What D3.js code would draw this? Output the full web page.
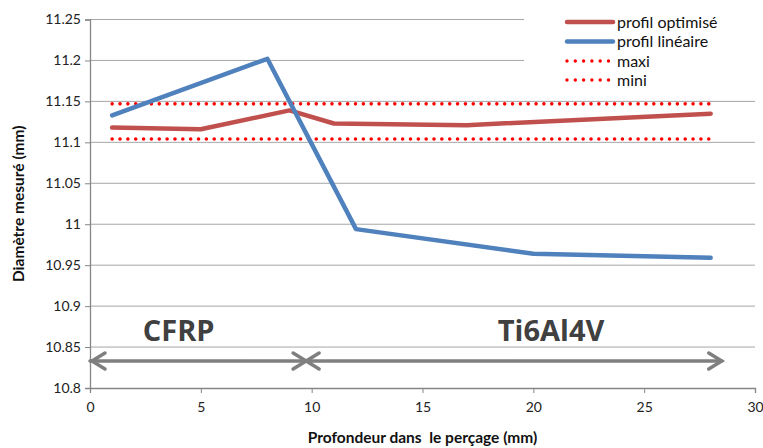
<!DOCTYPE html>
<html>
<head>
<meta charset="utf-8">
<script src="https://cdn.jsdelivr.net/npm/d3@7"></script>
<style>
  body { margin: 0; background: #fff; }
  svg { display: block; font-family: Lato, "Open Sans", sans-serif; }
</style>
</head>
<body>
<svg id="chart" width="763" height="448"></svg>
<script>
// data
const optX = [1, 5, 9, 11, 17, 28];
const optY = [11.118, 11.116, 11.139, 11.123, 11.121, 11.135];
const linX = [1, 8, 12, 20, 28];
const linY = [11.133, 11.202, 10.994, 10.964, 10.959];
const limX = [1, 28];
const maxiY = [11.147, 11.147];
const miniY = [11.104, 11.104];
const xTicks = [0, 5, 10, 15, 20, 25, 30];
const yTicks = [10.8, 10.85, 10.9, 10.95, 11, 11.05, 11.1, 11.15, 11.2, 11.25];
const zoneBounds = [0, 9.75, 28.5];
const zoneNames = ['CFRP', 'Ti6Al4V'];
const zoneLabelX = [4, 20.8];
const arrowY = 10.833;
const labelY = 10.858;
const legendNames = ['profil optimisé', 'profil linéaire', 'maxi', 'mini'];

const svg = d3.select('#chart');
const x = d3.scaleLinear().domain([0, 30]).range([90, 755]);
const y = d3.scaleLinear().domain([10.8, 11.25]).range([388, 19.5]);

const red = '#C0504D', blue = '#4F81BD', axisCol = '#868686';

// gridlines
svg.append('g').selectAll('line')
    .data(yTicks.slice(1))
    .join('line')
    .attr('x1', x(0)).attr('x2', x(30))
    .attr('y1', d => y(d)).attr('y2', d => y(d))
    .attr('stroke', '#a6a6a6').attr('stroke-width', 1);

// axes
const yAxis = svg.append('g')
    .attr('transform', `translate(${x(0)},0)`)
    .call(d3.axisLeft(y).tickValues(yTicks).tickSize(5).tickPadding(4)
        .tickFormat(d => d3.format('')(+d.toFixed(2))));
const xAxis = svg.append('g')
    .attr('transform', `translate(0,${y(10.8)})`)
    .call(d3.axisBottom(x).tickValues(xTicks).tickSize(5).tickPadding(9));
[xAxis, yAxis].forEach(a => {
    a.select('.domain').attr('stroke', axisCol).attr('stroke-width', 1.3);
    a.selectAll('.tick line').attr('stroke', axisCol);
    a.selectAll('.tick text').attr('font-size', 14).attr('fill', '#222')
        .attr('font-family', 'Lato, sans-serif');
});

// limit lines
const line = d3.line().x(d => x(d[0])).y(d => y(d[1]));
[maxiY, miniY].forEach(vals => {
    svg.append('path')
        .attr('d', line(limX.map((v, i) => [v, vals[i]])))
        .attr('fill', 'none')
        .attr('stroke', '#ff0000')
        .attr('stroke-width', 3.6)
        .attr('stroke-linecap', 'round')
        .attr('stroke-dasharray', '0 7.85');
});

// series
svg.append('path')
    .attr('d', line(optX.map((v, i) => [v, optY[i]])))
    .attr('fill', 'none').attr('stroke', red).attr('stroke-width', 4.5)
    .attr('stroke-linejoin', 'round').attr('stroke-linecap', 'round');
svg.append('path')
    .attr('d', line(linX.map((v, i) => [v, linY[i]])))
    .attr('fill', 'none').attr('stroke', blue).attr('stroke-width', 4.5)
    .attr('stroke-linejoin', 'round').attr('stroke-linecap', 'round');

// zone arrows
const ay = y(arrowY);
const arrows = svg.append('g').attr('stroke', '#7f7f7f').attr('stroke-width', 3.5)
    .attr('fill', 'none').attr('stroke-linecap', 'round');
arrows.append('line').attr('x1', x(zoneBounds[0])).attr('x2', x(zoneBounds[2]))
    .attr('y1', ay).attr('y2', ay);
function head(px, dir) {
    arrows.append('path')
        .attr('d', `M${px - dir * 13},${ay - 8}L${px},${ay}L${px - dir * 13},${ay + 8}`);
}
head(x(zoneBounds[0]) + 2, -1);
head(x(zoneBounds[1]), 1);
head(x(zoneBounds[1]), -1);
head(x(zoneBounds[2]), 1);

svg.selectAll('text.zone')
    .data(zoneNames)
    .join('text')
    .attr('class', 'zone')
    .attr('x', (d, i) => x(zoneLabelX[i]))
    .attr('y', y(labelY))
    .attr('text-anchor', 'middle')
    .attr('font-family', '"Liberation Sans Narrow", "Open Sans", sans-serif')
    .attr('font-weight', 'bold')
    .attr('font-size', 29)
    .attr('fill', '#404040')
    .text(d => d);

// legend
const lg = svg.append('g');
lg.append('rect').attr('x', 524).attr('y', 8).attr('width', 236).attr('height', 84).attr('fill', '#fff');
const rowY = [22, 41.5, 61, 80];
legendNames.forEach((name, i) => {
    const yy = rowY[i];
    const l = lg.append('line').attr('x1', 567).attr('x2', 613).attr('y1', yy).attr('y2', yy)
        .attr('stroke-linecap', 'round');
    if (i < 2) {
        l.attr('stroke', i === 0 ? red : blue).attr('stroke-width', 4.5);
    } else {
        l.attr('stroke', '#ff0000').attr('stroke-width', 3.4).attr('stroke-dasharray', '0 8.3')
            .attr('x1', 567).attr('x2', 609);
    }
    lg.append('text').attr('x', 617).attr('y', yy + 5.5).attr('font-size', 16)
        .attr('fill', '#111').text(name);
});

// axis titles
svg.append('text')
    .attr('x', x(15)).attr('y', 443)
    .attr('text-anchor', 'middle').attr('font-weight', 'bold').attr('font-size', 15.5)
    .attr('fill', '#111').attr('xml:space', 'preserve')
    .style('white-space', 'pre')
    .text('Profondeur dans  le perçage (mm)');
svg.append('text')
    .attr('transform', `translate(24,${(y(10.8) + y(11.25)) / 2}) rotate(-90)`)
    .attr('text-anchor', 'middle').attr('font-weight', 'bold').attr('font-size', 15.5)
    .attr('fill', '#111')
    .text('Diamètre mesuré (mm)');
</script>
</body>
</html>
